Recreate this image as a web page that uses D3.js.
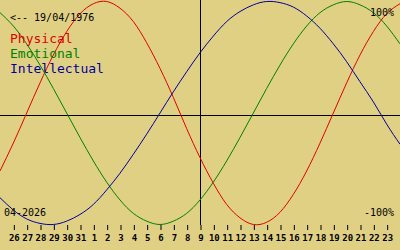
<!DOCTYPE html>
<html>
<head>
<meta charset="utf-8">
<script src="https://cdn.jsdelivr.net/npm/d3@7/dist/d3.min.js"></script>
<style>
  html, body { margin: 0; padding: 0; background: #e0d084; }
  svg { display: block; }
  text { font-family: "DejaVu Sans Mono", monospace; }
</style>
</head>
<body>
<svg id="chart" width="400" height="250"></svg>
<script>
// Biorhythm chart, 25 Mar .. 24 Apr 2026, centred on 9 Apr

const birthLabel = '<-- 19/04/1976';
const monthLabel = '04-2026';

// one label per day shown (first and last fall on the border, no tick)
const dayLabels = ['25', '26', '27', '28', '29', '30', '31', '1', '2', '3', '4', '5', '6', '7', '8',
    '9', '10', '11', '12', '13', '14', '15', '16', '17', '18', '19', '20', '21', '22', '23', '24'];
const centerDay = '9';

// values per day, -1 .. 1
const physical = [-0.52, -0.27, 0.00, 0.27, 0.52, 0.73, 0.89, 0.98, 1.00, 0.94, 0.82, 0.63, 0.40, 0.14, -0.14,
    -0.40, -0.63, -0.82, -0.94, -1.00, -0.98, -0.89, -0.73, -0.52, -0.27, 0.00, 0.27, 0.52, 0.73, 0.89, 0.98];
const emotional = [0.90, 0.78, 0.62, 0.43, 0.22, 0.00, -0.22, -0.43, -0.62, -0.78, -0.90, -0.97, -1.00, -0.97, -0.90,
    -0.78, -0.62, -0.43, -0.22, 0.00, 0.22, 0.43, 0.62, 0.78, 0.90, 0.97, 1.00, 0.97, 0.90, 0.78, 0.62];
const intellectual = [-0.76, -0.87, -0.95, -0.99, -1.00, -0.97, -0.91, -0.82, -0.69, -0.54, -0.37, -0.19, 0.00, 0.19, 0.37,
    0.54, 0.69, 0.82, 0.91, 0.97, 1.00, 0.99, 0.95, 0.87, 0.76, 0.62, 0.46, 0.28, 0.10, -0.10, -0.28];

const seriesNames = ['Physical', 'Emotional', 'Intellectual'];
const seriesColors = ['#e00000', '#008000', '#00009c'];

const width = 400;
const height = 250;

const svg = d3.select('#chart');

const x = d3.scalePoint()
    .domain(dayLabels.map((d, i) => i))
    .range([0, width]);

const y = d3.scaleLinear()
    .domain([-1, 1])
    .range([224.5, 1.5]);

// cross lines
const cx = x(dayLabels.indexOf(centerDay));
svg.append('line')
    .attr('x1', cx + 0.5).attr('x2', cx + 0.5)
    .attr('y1', 0).attr('y2', 225)
    .attr('stroke', '#000').attr('stroke-width', 1);
svg.append('line')
    .attr('x1', 0).attr('x2', width)
    .attr('y1', 115.5).attr('y2', 115.5)
    .attr('stroke', '#000').attr('stroke-width', 1);

// day ticks along the bottom
const axis = d3.axisBottom(x)
    .tickValues(dayLabels.map((d, i) => i).slice(1, -1))
    .tickFormat(i => dayLabels[i])
    .tickSize(5)
    .tickPadding(5);

const axisG = svg.append('g')
    .attr('transform', 'translate(0.5,225)')
    .call(axis);
axisG.select('.domain').remove();
axisG.selectAll('line').attr('stroke', '#000');
axisG.selectAll('text')
    .attr('fill', '#000')
    .attr('font-size', '9px')
    .attr('font-weight', 'bold')
    .attr('font-family', '"Liberation Sans", Arial, sans-serif');

// curves
const line = d3.line()
    .x((d, i) => x(i))
    .y(d => y(d))
    .curve(d3.curveNatural);

[physical, emotional, intellectual].forEach((values, k) => {
    svg.append('path')
        .datum(values)
        .attr('d', line)
        .attr('fill', 'none')
        .attr('stroke', seriesColors[k])
        .attr('stroke-width', 1);
});

// labels
svg.append('text')
    .attr('x', 10).attr('y', 21)
    .attr('font-size', '10px')
    .attr('fill', '#000')
    .text(birthLabel);

seriesNames.forEach((name, k) => {
    svg.append('text')
        .attr('x', 10).attr('y', 43 + k * 15)
        .attr('font-size', '13px')
        .attr('fill', seriesColors[k])
        .text(name);
});

svg.append('text')
    .attr('x', 4).attr('y', 216)
    .attr('font-size', '10px')
    .attr('fill', '#000')
    .text(monthLabel);

svg.append('text')
    .attr('x', 394).attr('y', 16)
    .attr('text-anchor', 'end')
    .attr('font-size', '10px')
    .attr('fill', '#000')
    .text('100%');

svg.append('text')
    .attr('x', 394).attr('y', 216)
    .attr('text-anchor', 'end')
    .attr('font-size', '10px')
    .attr('fill', '#000')
    .text('-100%');
</script>
</body>
</html>
